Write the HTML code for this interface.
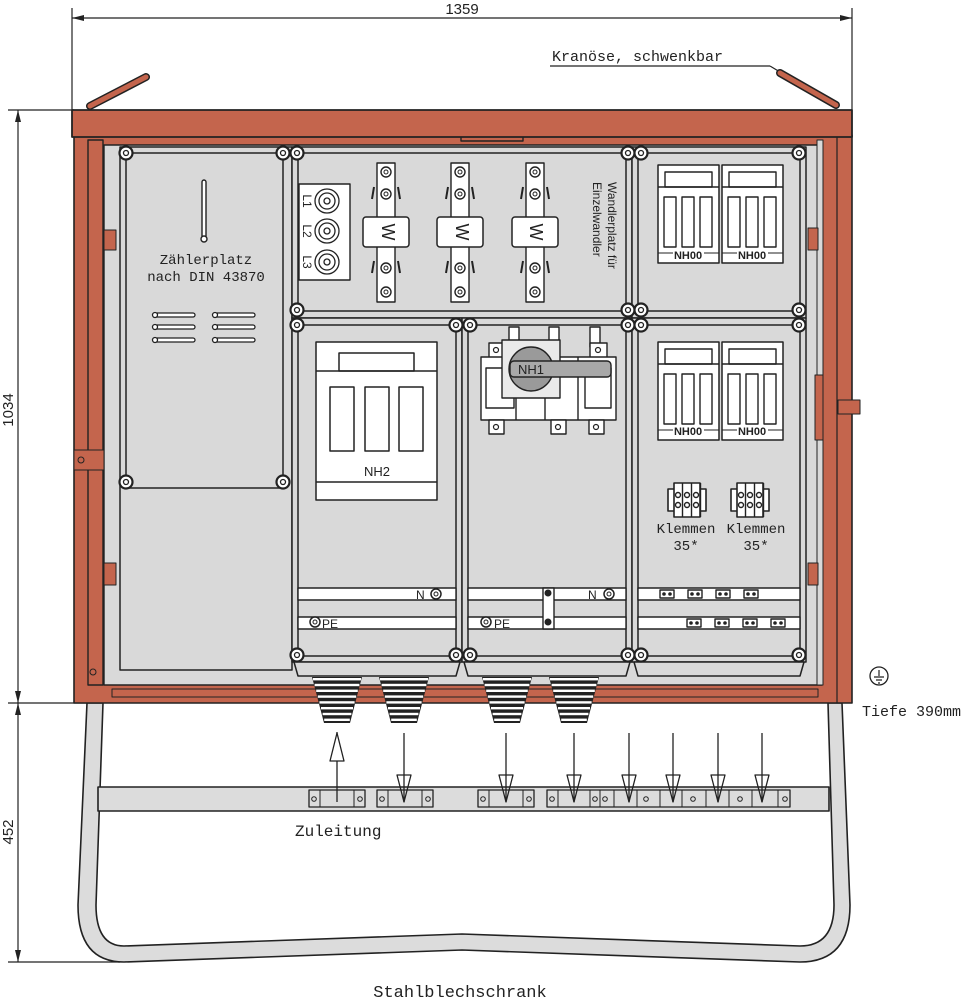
<!DOCTYPE html>
<html><head><meta charset="utf-8"><style>
html,body{margin:0;padding:0;background:#fff}
svg{display:block}
text{font-family:"Liberation Sans","DejaVu Sans",sans-serif;fill:#222}
text.m{font-family:"Liberation Mono","DejaVu Sans Mono",monospace}
</style></head><body>
<svg id="s" width="973" height="1000" viewBox="0 0 973 1000" xmlns="http://www.w3.org/2000/svg" stroke-linejoin="round">
<g stroke="#222" stroke-width="1.2" fill="none">
<line x1="72" y1="8" x2="72" y2="110"/><line x1="852" y1="8" x2="852" y2="110"/>
<line x1="72" y1="18" x2="852" y2="18"/>
<line x1="8" y1="110" x2="74" y2="110"/><line x1="8" y1="703" x2="90" y2="703"/><line x1="8" y1="962" x2="120" y2="962"/>
<line x1="18" y1="110" x2="18" y2="962"/>
</g>
<g fill="#222">
<path d="M72 18 l12 -3 v6z"/><path d="M852 18 l-12 -3 v6z"/>
<path d="M18 110 l-3 12 h6z"/><path d="M18 703 l-3 -12 h6z"/><path d="M18 703 l-3 12 h6z"/><path d="M18 962 l-3 -12 h6z"/>
</g>
<text x="462" y="14" font-size="15" text-anchor="middle">1359</text>
<text transform="translate(13,410) rotate(-90)" font-size="15" text-anchor="middle">1034</text>
<text transform="translate(13,832) rotate(-90)" font-size="15" text-anchor="middle">452</text>
<text class="m" x="552" y="61" font-size="15">Kranöse, schwenkbar</text>
<line x1="550" y1="66" x2="770" y2="66" stroke="#222" stroke-width="1.2"/>
<line x1="770" y1="66" x2="790" y2="78" stroke="#222" stroke-width="1.2"/>

<path d="M87 703 L78 905 Q78 962 124 962 L462 950 L800 962 Q850 962 850 905 L842 703 L828 703 L834 905 Q834 946 800 946 L462 934 L124 946 Q96 946 96 905 L103 703 Z" fill="#dcdcdc" stroke="#222" stroke-width="1.6"/>
<rect x="98" y="787" width="731" height="24" fill="#dcdcdc" stroke="#222" stroke-width="1.6"/>

<line x1="90" y1="106" x2="146" y2="77" stroke="#222" stroke-width="8" stroke-linecap="round"/>
<line x1="90" y1="106" x2="146" y2="77" stroke="#c4654d" stroke-width="5" stroke-linecap="round"/>
<line x1="780" y1="73" x2="836" y2="105" stroke="#222" stroke-width="8" stroke-linecap="round"/>
<line x1="780" y1="73" x2="836" y2="105" stroke="#c4654d" stroke-width="5" stroke-linecap="round"/>

<rect x="74" y="135" width="778" height="568" fill="#c4654d" stroke="#222" stroke-width="1.6"/>
<rect x="72" y="110" width="780" height="27" fill="#c4654d" stroke="#222" stroke-width="1.8"/>
<rect x="104" y="145" width="718" height="540" fill="#d9d9d9" stroke="#222" stroke-width="1.4"/>
<rect x="88" y="140" width="15" height="545" fill="#c4654d" stroke="#222" stroke-width="1.4"/>
<rect x="104" y="230" width="12" height="20" fill="#c4654d" stroke="#222"/>
<rect x="104" y="563" width="12" height="22" fill="#c4654d" stroke="#222"/>
<rect x="74" y="450" width="30" height="20" fill="#c4654d" stroke="#222"/>
<circle cx="81" cy="460" r="3" fill="none" stroke="#222"/>
<circle cx="93" cy="672" r="3" fill="none" stroke="#222"/>
<rect x="112" y="689" width="706" height="8" fill="#c4654d" stroke="#222"/>
<path d="M461 137 v4 h62 v-4" fill="none" stroke="#222" stroke-width="1.4"/>
<rect x="817" y="140" width="6" height="545" fill="#d9d9d9" stroke="#222"/>
<rect x="808" y="228" width="10" height="22" fill="#c4654d" stroke="#222"/>
<rect x="808" y="563" width="10" height="22" fill="#c4654d" stroke="#222"/>
<rect x="815" y="375" width="8" height="65" fill="#c4654d" stroke="#222"/>
<rect x="838" y="400" width="22" height="14" fill="#c4654d" stroke="#222"/>
<line x1="837" y1="137" x2="837" y2="703" stroke="#222" stroke-width="1.2"/>

<g fill="none" stroke="#222" stroke-width="1.5">
<rect x="120" y="147" width="172" height="523" fill="#d9d9d9"/>
<rect x="126" y="153" width="157" height="335"/>
<rect x="292" y="147" width="340" height="171" fill="#d9d9d9"/>
<rect x="298" y="153" width="328" height="158"/>
<rect x="632" y="147" width="174" height="171" fill="#d9d9d9"/>
<rect x="638" y="153" width="162" height="158"/>
<rect x="292" y="318" width="170" height="344" fill="#d9d9d9"/>
<rect x="298" y="325" width="158" height="331"/>
<rect x="462" y="318" width="170" height="344" fill="#d9d9d9"/>
<rect x="468" y="325" width="158" height="331"/>
<rect x="632" y="318" width="174" height="344" fill="#d9d9d9"/>
<rect x="638" y="325" width="162" height="331"/>
<path d="M294 662 h166 l-4 14 h-158z" fill="#d9d9d9"/>
<path d="M464 662 h166 l-4 14 h-158z" fill="#d9d9d9"/>
<path d="M634 662 h170 l-4 14 h-162z" fill="#d9d9d9"/>
</g>

<g fill="#fff" stroke="#222" stroke-width="1.4">
<rect x="298" y="588" width="158" height="12"/><rect x="298" y="617" width="158" height="12"/>
<rect x="468" y="588" width="158" height="12"/><rect x="468" y="617" width="158" height="12"/>
<rect x="638" y="588" width="162" height="12"/><rect x="638" y="617" width="162" height="12"/>
<rect x="543" y="588" width="11" height="41" fill="#fff"/>
</g>
<text x="416" y="599" font-size="12">N</text><text x="588" y="599" font-size="12">N</text>
<text x="322" y="628" font-size="12">PE</text><text x="494" y="628" font-size="12">PE</text>

<g stroke="#222" stroke-width="1.4" fill="#fff">
<rect x="202" y="180" width="4" height="58" rx="2"/>
<circle cx="204" cy="239" r="3"/>
</g>
<text class="m" x="206" y="264" font-size="14" text-anchor="middle">Zählerplatz</text>
<text class="m" x="206" y="281" font-size="14" text-anchor="middle">nach DIN 43870</text>
<g id="slots" stroke="#222" stroke-width="1.3" fill="#fff"></g>

<rect x="299" y="184" width="51" height="96" fill="#fff" stroke="#222" stroke-width="1.4"/>
<g fill="#fff" stroke="#222" stroke-width="1.3">
<circle cx="327" cy="201" r="12"/><circle cx="327" cy="201" r="8"/><circle cx="327" cy="201" r="3"/>
<circle cx="327" cy="231" r="12"/><circle cx="327" cy="231" r="8"/><circle cx="327" cy="231" r="3"/>
<circle cx="327" cy="262" r="12"/><circle cx="327" cy="262" r="8"/><circle cx="327" cy="262" r="3"/>
</g>
<text transform="translate(303,201) rotate(90)" font-size="12" text-anchor="middle">L1</text>
<text transform="translate(303,231) rotate(90)" font-size="12" text-anchor="middle">L2</text>
<text transform="translate(303,262) rotate(90)" font-size="12" text-anchor="middle">L3</text>
<g id="ct"></g>
<text transform="translate(382,232) rotate(90)" font-size="18" text-anchor="middle">W</text>
<text transform="translate(456,232) rotate(90)" font-size="18" text-anchor="middle">W</text>
<text transform="translate(530,232) rotate(90)" font-size="18" text-anchor="middle">W</text>
<text transform="translate(608,182) rotate(90)" font-size="12">Wandlerplatz für</text>
<text transform="translate(593,182) rotate(90)" font-size="12">Einzelwandler</text>

<g fill="#fff" stroke="#222" stroke-width="1.5">
<rect x="316" y="342" width="121" height="158"/>
<rect x="339" y="353" width="75" height="18"/>
<line x1="316" y1="371" x2="437" y2="371"/>
<line x1="316" y1="482" x2="437" y2="482"/>
<rect x="330" y="387" width="24" height="64"/><rect x="365" y="387" width="24" height="64"/><rect x="399" y="387" width="24" height="64"/>
</g>
<text x="377" y="476" font-size="13" text-anchor="middle">NH2</text>

<g fill="#fff" stroke="#222" stroke-width="1.4">
<rect x="509" y="327" width="10" height="20"/><rect x="549" y="327" width="10" height="20"/><rect x="590" y="327" width="10" height="20"/>
<rect x="489" y="343" width="17" height="17"/><rect x="590" y="343" width="17" height="17"/>
<rect x="481" y="357" width="135" height="63"/>
<line x1="516" y1="357" x2="516" y2="420"/><line x1="545" y1="357" x2="545" y2="420"/><line x1="578" y1="357" x2="578" y2="420"/>
<rect x="486" y="368" width="28" height="40"/><rect x="585" y="368" width="26" height="40"/>
<rect x="489" y="420" width="15" height="14"/><rect x="551" y="420" width="15" height="14"/><rect x="589" y="420" width="15" height="14"/>
<rect x="502" y="340" width="58" height="58" fill="#eaeaea"/>
<circle cx="531" cy="369" r="22" fill="#9a9a9a"/>
<rect x="510" y="361" width="101" height="16" rx="4" fill="#a8a8a8"/>
</g>
<g fill="none" stroke="#222" stroke-width="1.2">
<circle cx="496" cy="350" r="2.5"/><circle cx="598" cy="350" r="2.5"/>
<circle cx="496" cy="427" r="2.5"/><circle cx="558" cy="427" r="2.5"/><circle cx="596" cy="427" r="2.5"/>
</g>
<text x="531" y="374" font-size="13" text-anchor="middle">NH1</text>

<g id="nh"></g>
<text x="688" y="259" font-size="11" text-anchor="middle" font-weight="bold">NH00</text>
<text x="752" y="259" font-size="11" text-anchor="middle" font-weight="bold">NH00</text>
<text x="688" y="435" font-size="11" text-anchor="middle" font-weight="bold">NH00</text>
<text x="752" y="435" font-size="11" text-anchor="middle" font-weight="bold">NH00</text>
<g id="kl"></g>
<text class="m" x="686" y="533" font-size="14" text-anchor="middle">Klemmen</text>
<text class="m" x="686" y="550" font-size="14" text-anchor="middle">35*</text>
<text class="m" x="756" y="533" font-size="14" text-anchor="middle">Klemmen</text>
<text class="m" x="756" y="550" font-size="14" text-anchor="middle">35*</text>

<g id="dyn"></g>

<circle cx="879" cy="676" r="9" fill="none" stroke="#222" stroke-width="1.3"/>
<path d="M879 670 v6 M874 677 h10 M876 680 h6 M878 683 h2" stroke="#222" stroke-width="1.2"/>
<text class="m" x="862" y="716" font-size="15">Tiefe 390mm</text>
<text class="m" x="295" y="836" font-size="16">Zuleitung</text>
<text class="m" x="460" y="997" font-size="17" text-anchor="middle">Stahlblechschrank</text>
</svg>
<script>
var NS="http://www.w3.org/2000/svg";
function el(p,t,a){var e=document.createElementNS(NS,t);for(var k in a)e.setAttribute(k,a[k]);p.appendChild(e);return e;}
var S="#222";
var slots=document.getElementById('slots');
[315,327,340].forEach(function(y){[[155,195],[215,255]].forEach(function(r){
 el(slots,'rect',{x:r[0],y:y-2,width:r[1]-r[0],height:4,rx:2});el(slots,'circle',{cx:r[0],cy:y,r:2.5});});});
var ct=document.getElementById('ct');
[386,460,535].forEach(function(x){
 el(ct,'rect',{x:x-9,y:163,width:18,height:139,fill:'#fff',stroke:S,'stroke-width':1.4});
 [172,194,268,292].forEach(function(y){el(ct,'circle',{cx:x,cy:y,r:5,fill:'#fff',stroke:S,'stroke-width':1.4});el(ct,'circle',{cx:x,cy:y,r:2,fill:'none',stroke:S});});
 [194,268].forEach(function(y){el(ct,'path',{d:'M'+(x-12)+' '+(y-7)+' l-2 12 M'+(x+12)+' '+(y-7)+' l2 12',stroke:S,'stroke-width':2,fill:'none'});});
 el(ct,'rect',{x:x-23,y:217,width:46,height:30,rx:3,fill:'#fff',stroke:S,'stroke-width':1.5});
});
var nh=document.getElementById('nh');
[[658,165],[722,165],[658,342],[722,342]].forEach(function(p){
 var x=p[0],y=p[1];
 el(nh,'rect',{x:x,y:y,width:61,height:98,fill:'#fff',stroke:S,'stroke-width':1.5});
 el(nh,'rect',{x:x+7,y:y+7,width:47,height:15,fill:'#fff',stroke:S,'stroke-width':1.4});
 el(nh,'line',{x1:x,y1:y+22,x2:x+61,y2:y+22,stroke:S,'stroke-width':1.4});
 [6,24,42].forEach(function(d){el(nh,'rect',{x:x+d,y:y+32,width:12,height:50,fill:'#fff',stroke:S,'stroke-width':1.4});});
 el(nh,'line',{x1:x,y1:y+88,x2:x+15,y2:y+88,stroke:S});el(nh,'line',{x1:x+46,y1:y+88,x2:x+61,y2:y+88,stroke:S});
});
var kl=document.getElementById('kl');
[687,750].forEach(function(x){
 el(kl,'rect',{x:x-19,y:489,width:38,height:22,fill:'#fff',stroke:S,'stroke-width':1.6});
 el(kl,'rect',{x:x-13,y:483,width:26,height:34,fill:'#fff',stroke:S,'stroke-width':1.6});
 [-9,0,9].forEach(function(d){el(kl,'circle',{cx:x+d,cy:495,r:2.5,fill:'none',stroke:S,'stroke-width':1.4});el(kl,'circle',{cx:x+d,cy:505,r:2.5,fill:'none',stroke:S,'stroke-width':1.4});
  el(kl,'line',{x1:x+d+4.5,y1:483,x2:x+d+4.5,y2:517,stroke:S,'stroke-width':1.4});});
});
var d=document.getElementById('dyn');
function screw(x,y){el(d,'circle',{cx:x,cy:y,r:6.5,fill:'#fff',stroke:S,'stroke-width':2.2});el(d,'circle',{cx:x,cy:y,r:2.5,fill:'none',stroke:S,'stroke-width':1.3});}
[[126,153],[283,153],[126,482],[283,482],[297,153],[628,153],[297,310],[628,310],[641,153],[799,153],[641,310],[799,310],
 [297,325],[456,325],[470,325],[628,325],[641,325],[799,325],[297,655],[456,655],[470,655],[628,655],[641,655],[799,655]].forEach(function(p){screw(p[0],p[1]);});
[[436,594],[609,594],[315,622],[486,622]].forEach(function(p){el(d,'circle',{cx:p[0],cy:p[1],r:5,fill:'#fff',stroke:S,'stroke-width':1.5});el(d,'circle',{cx:p[0],cy:p[1],r:2,fill:'none',stroke:S});});
el(d,'circle',{cx:548,cy:593,r:3.5,fill:S});el(d,'circle',{cx:548,cy:622,r:3.5,fill:S});
[666,694,722,750].forEach(function(x){el(d,'rect',{x:x-6,y:590,width:14,height:8,fill:'#fff',stroke:S,'stroke-width':1.4});el(d,'circle',{cx:x-2,cy:594,r:1.8,fill:S});el(d,'circle',{cx:x+4,cy:594,r:1.8,fill:S});});
[693,721,749,777].forEach(function(x){el(d,'rect',{x:x-6,y:619,width:14,height:8,fill:'#fff',stroke:S,'stroke-width':1.4});el(d,'circle',{cx:x-2,cy:623,r:1.8,fill:S});el(d,'circle',{cx:x+4,cy:623,r:1.8,fill:S});});
[337,404,507,574].forEach(function(x){
 el(d,'path',{d:'M'+(x-25)+' 677 h50 l-12 46 h-26z',fill:'#222'});
 for(var i=0;i<8;i++){var y=678+i*5.8,w=24-i*1.6;el(d,'rect',{x:x-w,y:y,width:2*w,height:2.4,fill:'#fff'});}
});
[[309,365],[377,433],[478,534],[547,790]].forEach(function(b){el(d,'rect',{x:b[0],y:790,width:b[1]-b[0],height:17,fill:'#dcdcdc',stroke:S,'stroke-width':1.3});});
[[309,365],[377,433],[478,534]].forEach(function(b){el(d,'line',{x1:b[0]+11,y1:790,x2:b[0]+11,y2:807,stroke:S});el(d,'line',{x1:b[1]-11,y1:790,x2:b[1]-11,y2:807,stroke:S});
 el(d,'circle',{cx:b[0]+5,cy:799,r:2.3,fill:'none',stroke:S});el(d,'circle',{cx:b[1]-5,cy:799,r:2.3,fill:'none',stroke:S});});
[547,558,590,600,614,637,660,682,706,729,752,778,790].forEach(function(x){el(d,'line',{x1:x,y1:790,x2:x,y2:807,stroke:S});});
[552,595,605,646,693,740,785].forEach(function(x){el(d,'circle',{cx:x,cy:799,r:2.3,fill:'none',stroke:S});});
el(d,'line',{x1:337,y1:732,x2:337,y2:802,stroke:S,'stroke-width':1.3});
el(d,'path',{d:'M337 733 l-7 28 h14z',fill:'#fff',stroke:S,'stroke-width':1.3});
[404,506,574,629,673,718,762].forEach(function(x){
 el(d,'line',{x1:x,y1:733,x2:x,y2:802,stroke:S,'stroke-width':1.3});
 el(d,'path',{d:'M'+(x-7)+' 775 h14 l-7 27z',fill:'none',stroke:S,'stroke-width':1.3});
});
</script>
</body></html>
